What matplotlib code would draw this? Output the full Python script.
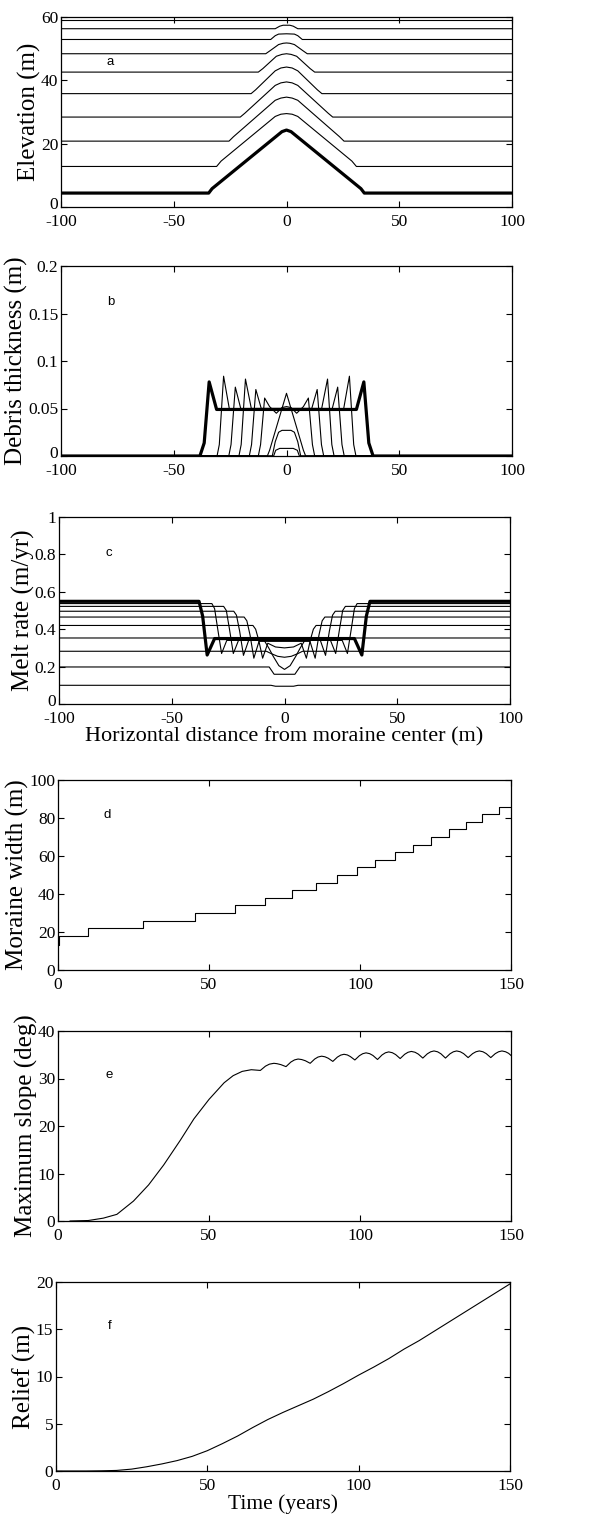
import numpy as np
import matplotlib
matplotlib.use("Agg")
from matplotlib import pyplot as plt
from matplotlib.transforms import ScaledTranslation

plt.rcParams["font.family"] = ["Liberation Serif", "DejaVu Serif"]
plt.rcParams["axes.unicode_minus"] = False

# ---- panel a: surface elevation profiles (left half, symmetric about x = 0)
ELEV_THIN = [
    ([-100, -31, -29, -5, -2.5, 0], [12.8, 12.8, 14.5, 28.6, 29.3, 29.5]),
    ([-100, -25.5, -23.5, -5, -2.5, 0], [20.8, 20.8, 22.2, 33.7, 34.4, 34.7]),
    ([-100, -20.5, -18.5, -5, -2.5, 0], [28.4, 28.4, 29.6, 38.4, 39.2, 39.5]),
    ([-100, -15.7, -13.7, -5, -2.5, 0], [35.8, 35.8, 37.0, 43.0, 43.9, 44.2]),
    ([-100, -12.5, -10.5, -4.5, -2, 0], [42.6, 42.6, 43.7, 47.6, 48.2, 48.4]),
    ([-100, -9.2, -7.2, -3.5, -1.5, 0], [48.4, 48.4, 49.4, 51.3, 51.7, 51.8]),
    ([-100, -7, -5, -3.5, 0], [52.9, 52.9, 54.1, 54.6, 54.7]),
    ([-100, -5, -3, -1.5, 0], [56.3, 56.3, 57.1, 57.4, 57.4]),
    ([-100, 0], [58.9, 58.9]),
]
ELEV_BOLD = ([-100, -34.5, -33, -2, 0], [4.4, 4.4, 5.8, 23.8, 24.3])

# ---- panel b: debris thickness profiles (left half)
DEBRIS_THIN = [
    ([-100, -30.8, -29.8, -27.9, -25.3, 0], [0, 0, 0.012, 0.084, 0.049, 0.049]),
    ([-100, -25.6, -24.6, -22.7, -20.3, 0], [0, 0, 0.012, 0.0725, 0.05, 0.05]),
    ([-100, -21.1, -20.1, -18.2, -15.6, 0], [0, 0, 0.012, 0.081, 0.05, 0.05]),
    ([-100, -16.5, -15.5, -13.6, -11.2, 0], [0, 0, 0.012, 0.070, 0.05, 0.05]),
    ([-100, -12.5, -11.5, -9.7, -7.5, -4.5, -2, 0],
     [0, 0, 0.012, 0.061, 0.052, 0.045, 0.051, 0.052]),
    ([-100, -8.5, -7.5, 0], [0, 0, 0.006, 0.066]),
    ([-100, -6.3, -5, -3.5, -2, 0], [0, 0, 0.015, 0.025, 0.027, 0.027]),
    ([-100, -5.7, -4.8, -3, 0], [0, 0, 0.006, 0.008, 0.008]),
]
DEBRIS_BOLD = ([-100, -38.4, -36.5, -34.3, -31, 0], [0, 0, 0.0137, 0.078, 0.049, 0.049])

# ---- panel c: melt rate profiles (left half)
MELT_THIN = [
    ([-100, -32.2, -31, -29.6, -27.9, -25.6, 0], [0.537, 0.537, 0.51, 0.40, 0.27, 0.34, 0.34]),
    ([-100, -27, -25.8, -24.4, -22.7, -20.4, 0], [0.522, 0.522, 0.50, 0.40, 0.27, 0.34, 0.34]),
    ([-100, -22.5, -21.3, -19.9, -18.2, -15.9, 0], [0.496, 0.496, 0.475, 0.39, 0.26, 0.34, 0.34]),
    ([-100, -17.9, -16.7, -15.3, -13.6, -11.3, 0], [0.465, 0.465, 0.445, 0.37, 0.245, 0.335, 0.335]),
    ([-100, -14, -12.8, -11.4, -9.7, -7.4, -4, 0], [0.42, 0.42, 0.40, 0.34, 0.245, 0.325, 0.305, 0.30]),
    ([-100, -11, -9, -7, -5, -2.5, 0], [0.353, 0.353, 0.34, 0.30, 0.255, 0.205, 0.185]),
    ([-100, -8, -6, -3, 0], [0.282, 0.282, 0.27, 0.255, 0.25]),
    ([-100, -6.8, -4.6, 0], [0.198, 0.198, 0.159, 0.159]),
    ([-100, -6, -4, 0], [0.10, 0.10, 0.095, 0.095]),
]
MELT_BOLD = ([-100, -37.9, -36.3, -34.3, -31, 0], [0.549, 0.549, 0.47, 0.262, 0.35, 0.35])

# ---- panel d: moraine width
WIDTH_T = [0, 0.4, 10, 28, 45.5, 58.5, 68.5, 77.5, 85.5, 92.5, 99, 105, 111.5,
           117.5, 123.5, 129.5, 135, 140.5, 146, 150]
WIDTH_W = [13, 18, 22, 26, 30, 34, 38, 42, 46, 50, 54, 58, 62, 66, 70, 74, 78,
           82, 86, 86]

# ---- panel e: maximum slope (S-curve, plateau, then scallops)
SLOPE_T = [4, 10, 15, 19.5, 25, 30, 35, 40.5, 45, 50, 55, 58, 61, 64, 67,
           68.7, 70.0, 71.5, 72.5, 73.8, 75.5,
           77.1, 78.3, 79.5, 80.7, 81.9, 83.5,
           85.0, 86.1, 87.3, 88.4, 89.5, 91.0,
           92.5, 93.6, 94.7, 95.8, 96.8, 98.3,
           99.8, 100.9, 102.0, 103.2, 104.3, 105.8,
           107.3, 108.4, 109.5, 110.7, 111.8, 113.3,
           114.8, 115.9, 117.0, 118.2, 119.3, 120.8,
           122.3, 123.4, 124.5, 125.7, 126.8, 128.3,
           129.8, 130.9, 132.0, 133.2, 134.3, 135.8,
           137.3, 138.4, 139.5, 140.7, 141.8, 143.3,
           144.8, 145.9, 147.0, 148.2, 149.2, 150.0]
SLOPE_D = [0, 0.1, 0.6, 1.4, 4.2, 7.6, 11.8, 17.0, 21.5, 25.6, 29.1, 30.6, 31.5, 31.85, 31.7,
           32.60, 33.02, 33.20, 33.12, 32.92, 32.50,
           33.46, 33.91, 34.10, 33.99, 33.74, 33.20,
           34.10, 34.52, 34.70, 34.57, 34.26, 33.60,
           34.50, 34.92, 35.10, 34.96, 34.62, 33.90,
           34.80, 35.22, 35.40, 35.23, 34.84, 34.00,
           34.96, 35.41, 35.60, 35.43, 35.04, 34.20,
           35.10, 35.52, 35.70, 35.53, 35.14, 34.30,
           35.20, 35.62, 35.80, 35.62, 35.20, 34.30,
           35.20, 35.62, 35.80, 35.63, 35.24, 34.40,
           35.24, 35.63, 35.80, 35.63, 35.24, 34.40,
           35.24, 35.63, 35.80, 35.63, 35.30, 34.85]

# ---- panel f: relief
RELIEF_T = [0, 10, 15, 20, 25, 30, 35, 40, 45, 50, 55, 60, 65, 70, 75, 80, 85, 90,
            95, 100, 105, 110, 115, 120, 125, 130, 135, 140, 145, 150]
RELIEF_M = [0, 0, 0.02, 0.06, 0.2, 0.45, 0.75, 1.1, 1.55, 2.15, 2.9, 3.7, 4.6, 5.45,
            6.2, 6.9, 7.6, 8.4, 9.25, 10.15, 11.0, 11.9, 12.9, 13.8, 14.8, 15.8,
            16.8, 17.8, 18.8, 19.8]

PROFILE_XTICKS = [-100, -50, 0, 50, 100]
PROFILE_XLABELS = ["-100", "-50", "0", "50", "100"]
TIME_XTICKS = [0, 50, 100, 150]
TIME_XLABELS = ["0", "50", "100", "150"]

TICK_SIZE = 12.5
YLABEL_SIZE = 18


def mirror(xh, yh):
    xh = np.asarray(xh, float)
    yh = np.asarray(yh, float)
    x = np.concatenate([xh, -xh[-2::-1]])
    y = np.concatenate([yh, yh[-2::-1]])
    return x, y


def style(ax, xticks, xlabels, yticks, ylabels, xlim, ylim):
    ax.set_xlim(*xlim)
    ax.set_ylim(*ylim)
    ax.set_xticks(xticks)
    ax.set_xticklabels(xlabels)
    ax.set_yticks(yticks)
    ax.set_yticklabels(ylabels)
    ax.tick_params(direction="in", top=True, right=True, length=4.5, width=0.8,
                   labelsize=TICK_SIZE)
    ax.tick_params(axis="x", pad=5)
    ax.tick_params(axis="y", pad=2)
    for s in ax.spines.values():
        s.set_linewidth(0.9)


def lift_zero(ax, fig):
    # nudge the bottom y tick label up so it clears the "-100" x tick label
    lab = ax.yaxis.get_major_ticks()[0].label1
    lab.set_transform(lab.get_transform() + ScaledTranslation(0, 3 / 72, fig.dpi_scale_trans))


def letter(ax, x, y, s):
    ax.text(x, y, s, fontsize=9.5, family=["Liberation Sans", "DejaVu Sans"],
            ha="center", va="center")


def main():
    fig = plt.figure(figsize=(6.06, 15.22), dpi=100)
    W, H = 606.0, 1522.0

    def axes_px(l, r, t, b):
        return fig.add_axes([l / W, 1 - b / H, (r - l) / W, (b - t) / H])

    thin = dict(color="black", lw=0.8)
    bold = dict(color="black", lw=2.3)

    # a
    ax = axes_px(61, 512, 17, 207)
    for xh, yh in ELEV_THIN:
        ax.plot(*mirror(xh, yh), **thin)
    ax.plot(*mirror(*ELEV_BOLD), **bold)
    style(ax, PROFILE_XTICKS, PROFILE_XLABELS, [0, 20, 40, 60], ["0", "20", "40", "60"],
          (-100, 100), (0, 60))
    lift_zero(ax, fig)
    ax.set_ylabel("Elevation (m)", fontsize=YLABEL_SIZE, labelpad=0)
    letter(ax, -78, 45.8, "a")

    # b
    ax = axes_px(61, 512, 266, 456)
    for xh, yh in DEBRIS_THIN:
        ax.plot(*mirror(xh, yh), **thin)
    ax.plot(*mirror(*DEBRIS_BOLD), **bold)
    style(ax, PROFILE_XTICKS, PROFILE_XLABELS, [0, 0.05, 0.1, 0.15, 0.2],
          ["0", "0.05", "0.1", "0.15", "0.2"], (-100, 100), (0, 0.2))
    lift_zero(ax, fig)
    ax.set_ylabel("Debris thickness (m)", fontsize=YLABEL_SIZE, labelpad=0)
    letter(ax, -78, 0.162, "b")

    # c
    ax = axes_px(59, 510, 517, 704)
    for xh, yh in MELT_THIN:
        ax.plot(*mirror(xh, yh), **thin)
    ax.plot(*mirror(*MELT_BOLD), **bold)
    style(ax, PROFILE_XTICKS, PROFILE_XLABELS, [0, 0.2, 0.4, 0.6, 0.8, 1],
          ["0", "0.2", "0.4", "0.6", "0.8", "1"], (-100, 100), (0, 1))
    lift_zero(ax, fig)
    ax.set_ylabel("Melt rate (m/yr)", fontsize=YLABEL_SIZE, labelpad=0)
    ax.set_xlabel("Horizontal distance from moraine center (m)", fontsize=16,
                  labelpad=0)
    letter(ax, -78, 0.807, "c")

    # d
    ax = axes_px(58, 511, 780, 970)
    ax.plot(WIDTH_T, WIDTH_W, drawstyle="steps-post", **thin)
    style(ax, TIME_XTICKS, TIME_XLABELS, [0, 20, 40, 60, 80, 100],
          ["0", "20", "40", "60", "80", "100"], (0, 150), (0, 100))
    ax.set_ylabel("Moraine width (m)", fontsize=YLABEL_SIZE, labelpad=0)
    letter(ax, 16.2, 81.6, "d")

    # e
    ax = axes_px(58, 511, 1031, 1221)
    ax.plot(SLOPE_T, SLOPE_D, **thin)
    style(ax, TIME_XTICKS, TIME_XLABELS, [0, 10, 20, 30, 40],
          ["0", "10", "20", "30", "40"], (0, 150), (0, 40))
    ax.set_ylabel("Maximum slope (deg)", fontsize=YLABEL_SIZE, labelpad=0)
    letter(ax, 16.9, 30.7, "e")

    # f
    ax = axes_px(56, 510, 1282, 1471)
    ax.plot(RELIEF_T, RELIEF_M, **thin)
    style(ax, TIME_XTICKS, TIME_XLABELS, [0, 5, 10, 15, 20],
          ["0", "5", "10", "15", "20"], (0, 150), (0, 20))
    ax.set_ylabel("Relief (m)", fontsize=YLABEL_SIZE, labelpad=0)
    ax.set_xlabel("Time (years)", fontsize=15.5, labelpad=0)
    letter(ax, 17.8, 15.3, "f")

    fig.savefig("out.png", dpi=100)


if __name__ == "__main__":
    main()
